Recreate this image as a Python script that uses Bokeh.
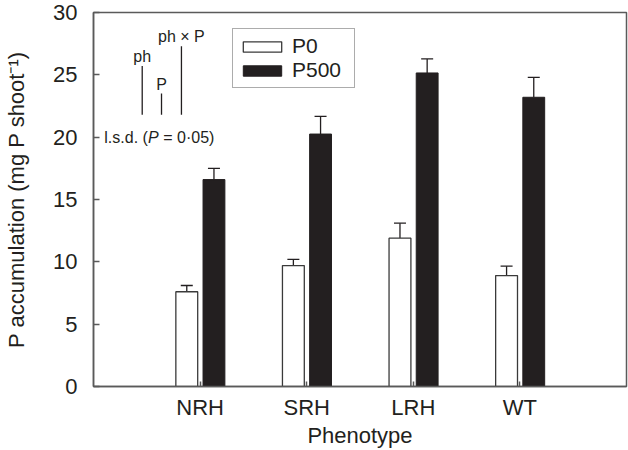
from bokeh.plotting import figure
from bokeh.models import ColumnDataSource, FixedTicker, Whisker, Legend, LegendItem, Label, TeeHead
from bokeh.transform import dodge
from bokeh.core.properties import value
from bokeh.embed import file_html
from bokeh.resources import INLINE

# ---- data ----
phenotypes = ["NRH", "SRH", "LRH", "WT"]
positions = [1, 2, 3, 4]
p0 = [7.6, 9.7, 11.9, 8.9]
p0_err = [0.5, 0.5, 1.2, 0.75]
p500 = [16.6, 20.25, 25.15, 23.2]
p500_err = [0.9, 1.42, 1.13, 1.6]

lsd_labels = ["ph", "P", "ph \u00d7 P"]
lsd_pos = [0.457, 0.638, 0.825]
lsd_base = 21.8
lsd_values = [3.9, 1.7, 5.5]

FONT = "Liberation Sans"
TXT = "#231f20"
LINE = "#5a5a5a"

src = ColumnDataSource(dict(
    x=positions, p0=p0, p500=p500,
    p0_up=[v + e for v, e in zip(p0, p0_err)],
    p500_up=[v + e for v, e in zip(p500, p500_err)],
))

p = figure(width=628, height=450, x_range=(0, 5), y_range=(0, 30),
           output_backend="svg", toolbar_location=None,
           min_border_left=93, min_border_right=2, min_border_top=12, min_border_bottom=64)
p.grid.visible = False
p.outline_line_color = LINE
p.outline_line_width = 1.5
p.background_fill_color = "white"

W = 0.205
off0, off1 = -0.125, 0.13

# error bars (upper only)
w0 = Whisker(base=dodge("x", off0), lower="p0", upper="p0_up", source=src,
             line_color=TXT, line_width=1.3, lower_head=None,
             upper_head=TeeHead(size=12, line_color=TXT, line_width=1.3))
w1 = Whisker(base=dodge("x", off1), lower="p500", upper="p500_up", source=src,
             line_color=TXT, line_width=1.3, lower_head=None,
             upper_head=TeeHead(size=12, line_color=TXT, line_width=1.3))
p.add_layout(w0)
p.add_layout(w1)

r0 = p.vbar(x=dodge("x", off0), top="p0", width=W, source=src,
            fill_color="white", line_color="#3a3a3a", line_width=1.3)
r1 = p.vbar(x=dodge("x", off1), top="p500", width=W, source=src,
            fill_color=TXT, line_color=TXT, line_width=1.0)

# l.s.d. bars
lsd_src = ColumnDataSource(dict(
    x=lsd_pos, y0=[lsd_base] * 3, y1=[lsd_base + v for v in lsd_values], t=lsd_labels))
p.segment(x0="x", y0="y0", x1="x", y1="y1", source=lsd_src, line_color=TXT, line_width=1.3)
p.text(x="x", y="y1", text="t", source=lsd_src, text_align="center", text_baseline="bottom",
       y_offset=-1, text_font=value(FONT), text_font_size=value("16px"), text_color=TXT)

lx, ly = 0.12, 20
p.add_layout(Label(x=lx, y=ly, x_offset=-2, text="l.s.d. (", text_font=FONT, text_font_size="16px",
                   text_color=TXT, text_baseline="middle", text_align="left"))
p.add_layout(Label(x=lx, y=ly, x_offset=41.6, text="P", text_font=FONT, text_font_size="16px",
                   text_font_style="italic", text_color=TXT, text_baseline="middle", text_align="left"))
p.add_layout(Label(x=lx, y=ly, x_offset=57, text="= 0\u00b705)", text_font=FONT, text_font_size="16px",
                   text_color=TXT, text_baseline="middle", text_align="left"))

# axes
p.xaxis.ticker = FixedTicker(ticks=positions)
p.xaxis.major_label_overrides = {pos: lab for pos, lab in zip(positions, phenotypes)}
p.yaxis.ticker = FixedTicker(ticks=[0, 5, 10, 15, 20, 25, 30])
for ax in (p.xaxis[0], p.yaxis[0]):
    ax.axis_line_color = LINE
    ax.axis_line_width = 1.5
    ax.major_tick_line_color = LINE
    ax.major_tick_line_width = 1.5
    ax.major_tick_out = 0
    ax.minor_tick_line_color = None
    ax.major_label_text_font = FONT
    ax.major_label_text_font_size = "22px"
    ax.major_label_text_color = TXT
    ax.axis_label_text_font = FONT
    ax.axis_label_text_font_size = "22px"
    ax.axis_label_text_font_style = "normal"
    ax.axis_label_text_color = TXT
p.yaxis.major_tick_in = 6
p.xaxis.major_tick_in = 5
p.yaxis.major_label_standoff = 16
p.xaxis.major_label_standoff = 8
p.yaxis.axis_label = "P accumulation (mg P shoot\u207b\u00b9)"
p.yaxis.axis_label_standoff = 21
p.xaxis.axis_label = "Phenotype"
p.xaxis.axis_label_standoff = 0

legend = Legend(items=[LegendItem(label="P0", renderers=[r0]),
                       LegendItem(label="P500", renderers=[r1])],
                location=(139, 298))
legend.border_line_color = LINE
legend.border_line_width = 1.5
legend.background_fill_alpha = 1
legend.label_text_font = FONT
legend.label_text_font_size = "21px"
legend.label_text_color = TXT
legend.glyph_width = 48
legend.glyph_height = 13
legend.label_standoff = 6
legend.label_width = 57
legend.padding = 5
legend.spacing = -4
legend.margin = 0
legend.label_height = 20
p.add_layout(legend)

open("out.html", "w").write(file_html(p, INLINE))
